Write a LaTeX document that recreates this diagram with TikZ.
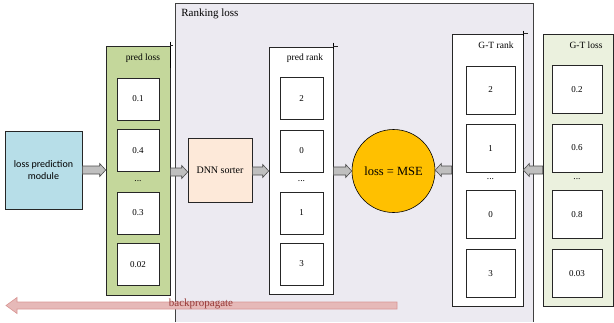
\documentclass[tikz,border=0pt]{standalone}
\usepackage{fontspec}
\setmainfont{Liberation Serif}
\newfontfamily\calib{Carlito}
\usetikzlibrary{calc}
\definecolor{rankbg}{RGB}{236,234,241}
\definecolor{plgreen}{RGB}{196,215,155}
\definecolor{glgreen}{RGB}{235,241,222}
\definecolor{lpmblue}{RGB}{183,222,232}
\definecolor{dnnpeach}{RGB}{253,233,217}
\definecolor{mseorange}{RGB}{255,192,0}
\definecolor{bpfill}{RGB}{230,185,184}
\definecolor{bpdraw}{RGB}{217,150,148}
\definecolor{bptext}{RGB}{149,55,53}
\definecolor{arrgray}{RGB}{191,191,191}
\begin{document}
\begin{tikzpicture}[x=1pt,y=-1pt,line width=0.6pt,
  every node/.style={font=\fontsize{9.5}{11}\selectfont},
  colbox/.style={draw=black!85,inner sep=0pt},
  cell/.style={draw=black!85,fill=white,inner sep=0pt,font=\fontsize{9}{10}\selectfont},
  title/.style={inner sep=0pt,font=\fontsize{9.5}{11}\selectfont},
  tick/.style={draw=black,line width=0.9pt},
  barrow/.style={draw=black!70,fill=arrgray,line width=0.6pt,
    to path={let \p1=(\tikztostart),\p2=(\tikztotarget),\n1={sign(\x2-\x1)} in
      (\x1,{\y1+4pt}) -- ({\x2-6pt*\n1},{\y1+4pt}) -- ({\x2-6pt*\n1},{\y1+6.5pt})
      -- (\x2,\y1) -- ({\x2-6pt*\n1},{\y1-6.5pt}) -- ({\x2-6pt*\n1},{\y1-4pt})
      -- (\x1,{\y1-4pt}) -- cycle}},
  bparrow/.style={draw=bpdraw,fill=bpfill,line width=0.6pt,
    to path={let \p1=(\tikztostart),\p2=(\tikztotarget),\n1={sign(\x2-\x1)} in
      (\x1,{\y1+3.5pt}) -- ({\x2-11pt*\n1},{\y1+3.5pt}) -- ({\x2-11pt*\n1},{\y1+8pt})
      -- (\x2,\y1) -- ({\x2-11pt*\n1},{\y1-8pt}) -- ({\x2-11pt*\n1},{\y1-3.5pt})
      -- (\x1,{\y1-3.5pt}) -- cycle}}
]
\useasboundingbox (0,0) rectangle (614,322);

% Ranking loss region
\fill[rankbg] (175.5,3) rectangle (533,322);
\draw[black!75] (175.5,322) -- (175.5,3) -- (533,3) -- (533,322);
\node[title,anchor=west,font=\fontsize{11}{12}\selectfont] (rltitle) at (181,14) {Ranking loss};

% loss prediction module
\node[draw=black!85,fill=lpmblue,minimum width=77pt,minimum height=78pt,inner sep=0pt,
  align=center,font=\calib\fontsize{10}{12.5}\selectfont] (lpm) at (43.5,170) {loss prediction\\module};

% pred loss column
\node[colbox,fill=plgreen,minimum width=64pt,minimum height=249pt] (pl) at (138,170.5) {};
\draw[tick] ($(pl.north east)+(0,-4)$) -- ($(pl.north east)+(0,22)$);
\draw[black!85] (pl.north east) -- ++(3,0);
\node[title] (pltitle) at (143,58) {pred loss};
\node[cell,minimum width=42pt,minimum height=42pt] (pl1) at (138,99) {0.1};
\node[cell,minimum width=42pt,minimum height=42pt] (pl2) at (138,150.5) {0.4};
\node[inner sep=0pt] (pld) at (138,181) {...};
\node[cell,minimum width=42pt,minimum height=42pt] (pl3) at (138,213) {0.3};
\node[cell,minimum width=42pt,minimum height=42pt] (pl4) at (138,264.5) {0.02};

% DNN sorter
\node[draw=black!85,fill=dnnpeach,minimum width=64pt,minimum height=64pt,inner sep=0pt,
  font=\fontsize{10}{12}\selectfont] (dnn) at (220,170) {DNN sorter};

% pred rank column
\node[colbox,fill=white,minimum width=64pt,minimum height=247pt] (pr) at (301,170.5) {};
\draw[tick] ($(pr.north east)+(0,-4)$) -- ($(pr.north east)+(0,2)$);
\draw[black!85] (pr.north east) -- ++(5,0);
\node[title] (prtitle) at (305,58) {pred rank};
\node[cell,minimum width=43pt,minimum height=42pt] (pr1) at (301.5,98.5) {2};
\node[cell,minimum width=43pt,minimum height=42pt] (pr2) at (301.5,151) {0};
\node[inner sep=0pt] (prd) at (301.5,181) {...};
\node[cell,minimum width=43pt,minimum height=42pt] (pr3) at (301.5,213) {1};
\node[cell,minimum width=43pt,minimum height=42pt] (pr4) at (301.5,264) {3};

% MSE circle
\node[circle,draw=black,fill=mseorange,minimum size=83pt,inner sep=0pt,
  font=\fontsize{12.5}{14}\selectfont] (mse) at (393.5,171) {loss = MSE};

% G-T rank column
\node[colbox,fill=white,minimum width=71pt,minimum height=272pt] (gr) at (487.5,170) {};
\draw[tick] ($(gr.north east)+(0,-3)$) -- ($(gr.north east)+(0,2)$);
\draw[black!85] (gr.north east) -- ++(5,0);
\node[title] (grtitle) at (496,45) {G-T rank};
\node[cell,minimum width=49pt,minimum height=48pt] (gr1) at (490.5,90) {2};
\node[cell,minimum width=49pt,minimum height=48pt] (gr2) at (490.5,148.5) {1};
\node[inner sep=0pt] (grd) at (490.5,179) {...};
\node[cell,minimum width=49pt,minimum height=48pt] (gr3) at (490.5,214.5) {0};
\node[cell,minimum width=49pt,minimum height=48pt] (gr4) at (490.5,273.5) {3};

% G-T loss column
\node[colbox,fill=glgreen,minimum width=70pt,minimum height=272pt] (gl) at (578,170) {};
\node[title] (gltitle) at (586,45) {G-T loss};
\node[cell,minimum width=50pt,minimum height=48pt] (gl1) at (577,89.5) {0.2};
\node[cell,minimum width=50pt,minimum height=48pt] (gl2) at (577,148) {0.6};
\node[inner sep=0pt] (gld) at (577,179) {...};
\node[cell,minimum width=50pt,minimum height=48pt] (gl3) at (577,214.5) {0.8};
\node[cell,minimum width=50pt,minimum height=48pt] (gl4) at (577,273.5) {0.03};

% block arrows
\coordinate (a2s) at ($(pl.east)+(0,1.5)$);
\coordinate (a2e) at (a2s -| dnn.west);
\coordinate (a3s) at ($(dnn.east)+(0,1)$);
\coordinate (a3e) at (a3s -| pr.west);
\path[barrow] (lpm.east) to (lpm.east -| pl.west);
\path[barrow] (a2s) to (a2e);
\path[barrow] (a3s) to (a3e);
\path[barrow] ($(pr.east)+(0,0.5)$) to (mse.west);
\path[barrow] (gr.west) to (mse.east);
\path[barrow] (gl.west) to (gl.west -| gr.east);

% backpropagate
\coordinate (bpS) at (397,305.5);
\coordinate (bpE) at (6,305.5);
\path[bparrow] (bpS) to (bpE);
\node[inner sep=0pt,text=bptext,font=\fontsize{11}{12}\selectfont] (bplabel) at (201,304) {backpropagate};
\end{tikzpicture}
\end{document}
